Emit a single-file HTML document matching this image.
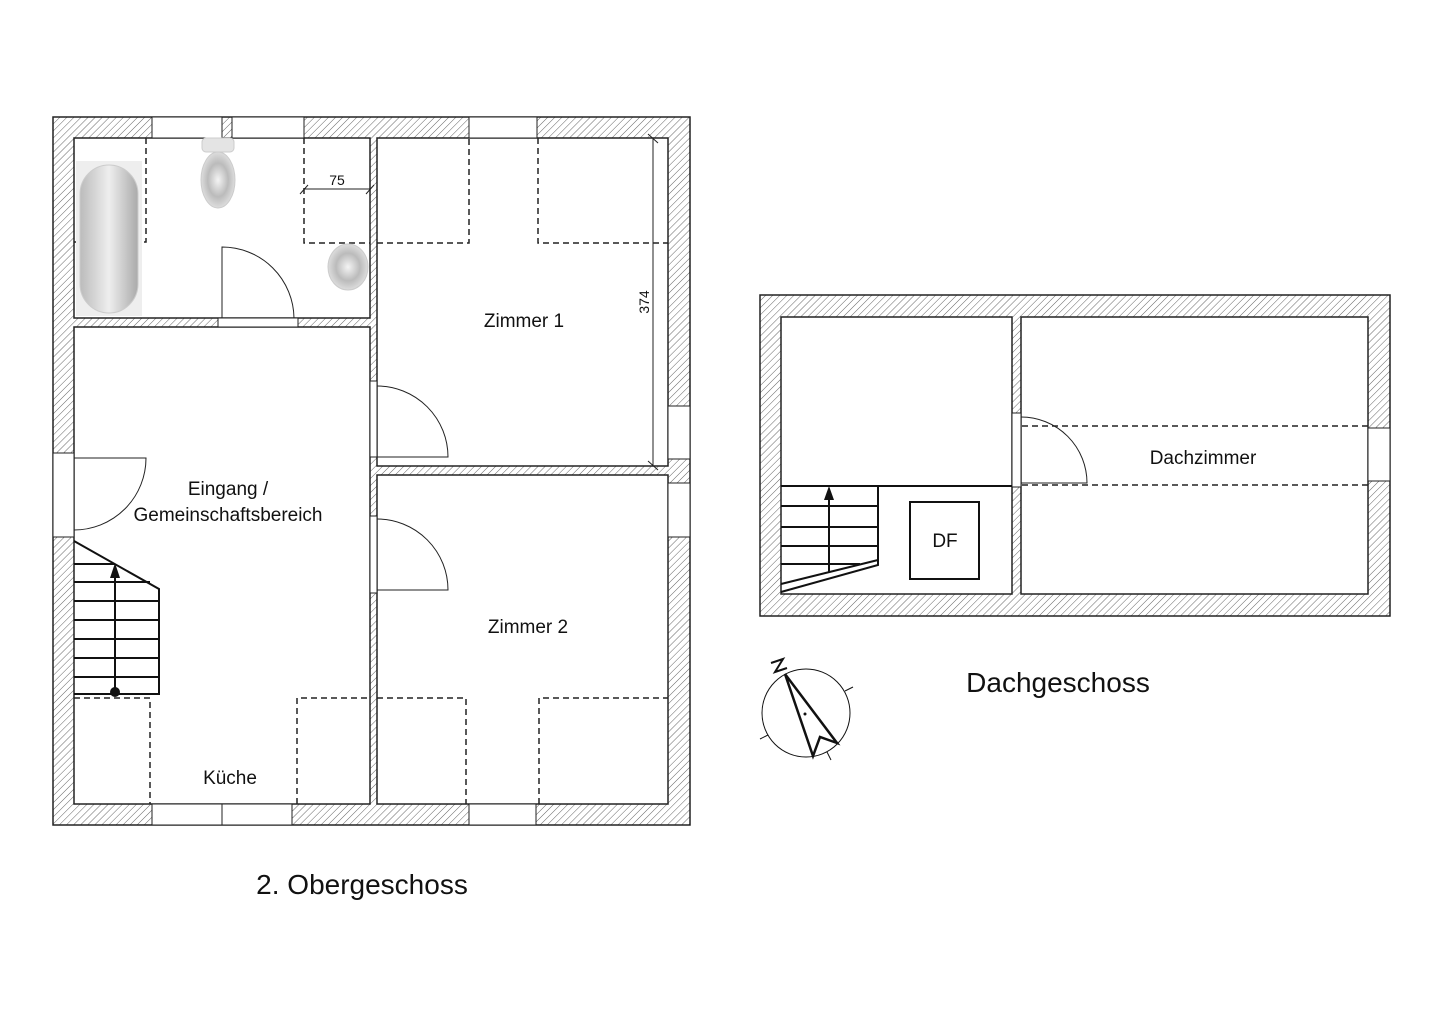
<!DOCTYPE html>
<html><head><meta charset="utf-8"><style>html,body{margin:0;padding:0;background:#fff}svg{display:block}</style></head>
<body>
<svg width="1440" height="1018" viewBox="0 0 1440 1018" xmlns="http://www.w3.org/2000/svg" font-family="Liberation Sans, DejaVu Sans, sans-serif">
<defs>
<pattern id="h" width="5" height="5" patternUnits="userSpaceOnUse" patternTransform="rotate(45)">
<rect width="5" height="5" fill="#fff"/><line x1="0" y1="0" x2="0" y2="5" stroke="#666" stroke-width="1"/>
</pattern>
<linearGradient id="g" x1="0" x2="1"><stop offset="0" stop-color="#bbb"/><stop offset="0.5" stop-color="#eee"/><stop offset="1" stop-color="#aaa"/></linearGradient>
<radialGradient id="rg"><stop offset="0" stop-color="#f4f4f4"/><stop offset="0.6" stop-color="#bbb"/><stop offset="1" stop-color="#ddd"/></radialGradient>
</defs>
<g stroke="#222" stroke-width="1.5">
<rect x="53" y="117" width="637" height="708" fill="url(#h)"/>
<rect x="74" y="138" width="296" height="180" fill="#fff"/>
<rect x="377" y="138" width="291" height="328" fill="#fff"/>
<rect x="74" y="327" width="296" height="477" fill="#fff"/>
<rect x="377" y="475" width="291" height="329" fill="#fff"/>
</g>
<g stroke="#222" stroke-width="1" fill="#fff">
<rect x="152" y="117" width="70" height="21"/><rect x="232" y="117" width="72" height="21"/><rect x="469" y="117" width="68" height="21"/>
<rect x="152" y="804" width="70" height="21"/><rect x="222" y="804" width="70" height="21"/><rect x="469" y="804" width="67" height="21"/>
<rect x="53" y="453" width="21" height="84"/>
<rect x="668" y="406" width="22" height="53"/><rect x="668" y="483" width="22" height="54"/>
<rect x="218" y="318" width="80" height="9"/>
<rect x="370" y="381" width="7" height="76"/>
<rect x="370" y="516" width="7" height="77"/>
</g>
<g fill="none" stroke="#222" stroke-width="1">
<path d="M222 318 V247 A72 72 0 0 1 294 318"/>
<path d="M377 457 H448 A71 71 0 0 0 377 386"/>
<path d="M377 590 H448 A71 71 0 0 0 377 519"/>
<path d="M74 530 V458 H146 A72 72 0 0 1 74 530"/>
<line x1="653" y1="138" x2="653" y2="466"/><line x1="648" y1="134" x2="658" y2="143"/><line x1="648" y1="461" x2="658" y2="470"/>
<line x1="304" y1="189" x2="370" y2="189"/><line x1="300" y1="194" x2="308" y2="185"/><line x1="366" y1="194" x2="374" y2="185"/>
</g>
<g fill="none" stroke="#222" stroke-width="1.5" stroke-dasharray="6,4">
<path d="M146 138 V242 H74"/>
<path d="M304 138 V243 H370"/>
<path d="M377 243 H469 V138"/>
<path d="M538 138 V243 H668"/>
<path d="M74 698 H150 V804"/>
<path d="M297 804 V698 H370"/>
<path d="M377 698 H466 V804"/>
<path d="M539 804 V698 H668"/>
</g>
<g fill="none" stroke="#111" stroke-width="2">
<path d="M74 541 L159 589 V694 H74"/>
<line x1="74" y1="564" x2="115" y2="564"/>
<line x1="74" y1="582" x2="150" y2="582"/>
<line x1="74" y1="601" x2="159" y2="601"/>
<line x1="74" y1="620" x2="159" y2="620"/>
<line x1="74" y1="639" x2="159" y2="639"/>
<line x1="74" y1="658" x2="159" y2="658"/>
<line x1="74" y1="677" x2="159" y2="677"/>
<line x1="115" y1="575" x2="115" y2="692"/>
</g>
<path d="M115 563 L110 578 H120 Z" fill="#111"/><circle cx="115" cy="692" r="5" fill="#111"/>
<rect x="76" y="161" width="66" height="155" fill="#eee"/>
<rect x="80" y="165" width="58" height="148" rx="29" fill="url(#g)" stroke="#ccc"/>
<rect x="202" y="138" width="32" height="14" rx="4" fill="#e4e4e4" stroke="#ccc"/>
<ellipse cx="218" cy="180" rx="17" ry="28" fill="url(#rg)" stroke="#ccc"/>
<ellipse cx="348" cy="267" rx="20" ry="23" fill="url(#rg)" stroke="#ccc"/>
<g stroke="#222" stroke-width="1.5">
<rect x="760" y="295" width="630" height="321" fill="url(#h)"/>
<rect x="781" y="317" width="231" height="277" fill="#fff"/>
<rect x="1021" y="317" width="347" height="277" fill="#fff"/>
</g>
<g stroke="#222" stroke-width="1" fill="#fff">
<rect x="1368" y="428" width="22" height="53"/>
<rect x="1012" y="413" width="9" height="74"/>
</g>
<path d="M1021 417 A66 66 0 0 1 1087 483 H1021" fill="none" stroke="#222" stroke-width="1"/>
<g fill="none" stroke="#222" stroke-width="1.5" stroke-dasharray="6,4">
<line x1="1022" y1="426" x2="1368" y2="426"/><line x1="1022" y1="485" x2="1368" y2="485"/>
</g>
<g fill="none" stroke="#111" stroke-width="2">
<line x1="781" y1="486" x2="1012" y2="486"/>
<path d="M878 486 V565 L781 592"/>
<line x1="781" y1="584" x2="878" y2="560"/>
<line x1="781" y1="506" x2="878" y2="506"/>
<line x1="781" y1="527" x2="878" y2="527"/>
<line x1="781" y1="546" x2="878" y2="546"/>
<line x1="781" y1="564" x2="860" y2="564"/>
<line x1="829" y1="497" x2="829" y2="572"/>
<rect x="910" y="502" width="69" height="77"/>
</g>
<path d="M829 486 L824 500 H834 Z" fill="#111"/>
<g fill="none" stroke="#111">
<circle cx="806" cy="713" r="44" stroke-width="1"/>
<line x1="845" y1="691" x2="853" y2="687" stroke-width="1"/><line x1="768" y1="735" x2="760" y2="739" stroke-width="1"/>
<line x1="827" y1="752" x2="831" y2="760" stroke-width="1"/>
<path d="M785 674 L837 743 L820 737 L813 756 Z" stroke-width="2.5" fill="#fff" stroke-linejoin="miter"/>
<path d="M771 663 L783 659 L775 672 L787 668" stroke-width="2"/>
</g>
<circle cx="805" cy="714" r="1.5" fill="#111"/>
<g fill="#111" font-size="19" text-anchor="middle">
<text x="524" y="327">Zimmer 1</text>
<text x="528" y="633">Zimmer 2</text>
<text x="228" y="495">Eingang /</text>
<text x="228" y="521">Gemeinschaftsbereich</text>
<text x="230" y="784">Küche</text>
<text x="1203" y="464">Dachzimmer</text>
<text x="945" y="547">DF</text>
<text x="337" y="185" font-size="14">75</text>
<text transform="translate(649,302) rotate(-90)" font-size="14">374</text>
<text x="362" y="894" font-size="28">2. Obergeschoss</text>
<text x="1058" y="692" font-size="28">Dachgeschoss</text>
</g>
</svg>
</body></html>
